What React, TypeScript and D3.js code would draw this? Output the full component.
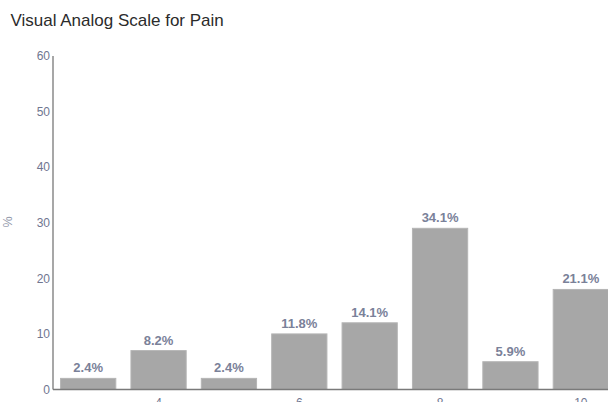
import React from "react";
import * as d3 from "d3";

const categories: number[] = [3, 4, 5, 6, 7, 8, 9, 10];
const counts: number[] = [2, 7, 2, 10, 12, 29, 5, 18];
const percentLabels: string[] = ["2.4%", "8.2%", "2.4%", "11.8%", "14.1%", "34.1%", "5.9%", "21.1%"];
const yTicks: number[] = [0, 10, 20, 30, 40, 50, 60];
const xTicks: number[] = [4, 6, 8, 10];
const title = "Visual Analog Scale for Pain";
const yLabel = "%";

export default function App() {
  const W = 608, H = 402;
  const x = d3.scaleLinear().domain([2.5, 10.5]).range([53, 616]);
  const y = d3.scaleLinear().domain([0, 60]).range([389.5, 56]);
  const unit = x(1) - x(0);
  const bw = unit * 0.785;
  const font = "'Liberation Sans', Arial, sans-serif";
  const tickColor = "#6f7690";
  return (
    <svg width={W} height={H} style={{ position: "absolute", left: 0, top: 0, background: "#fff" }} fontFamily={font}>
      <text x={10.5} y={26} fontSize={17} fill="#2b2b2b">{title}</text>
      <text transform={`translate(12,222) rotate(-90)`} textAnchor="middle" fontSize={12.5} fill="#8f96a8">{yLabel}</text>
      {yTicks.map((t) => (
        <text key={t} x={50} y={y(t)} dy="0.35em" textAnchor="end" fontSize={12} fill={tickColor}>{t}</text>
      ))}
      {xTicks.map((t) => (
        <text key={t} x={x(t)} y={y(0) + 8} dy="0.8em" textAnchor="middle" fontSize={12} fill={tickColor}>{t}</text>
      ))}
      {categories.map((c, i) => (
        <g key={c}>
          <rect x={x(c) - bw / 2} y={y(counts[i])} width={bw} height={y(0) - y(counts[i])} fill="#a7a7a7" stroke="#b5b5b5" strokeWidth={1} />
          <text x={x(c)} y={y(counts[i]) - 6} textAnchor="middle" fontSize={13} fontWeight="bold" fill="#7a8199">{percentLabels[i]}</text>
        </g>
      ))}
      <line x1={53} x2={53} y1={y(60)} y2={y(0)} stroke="#8a8a8a" strokeWidth={1.5} />
      <line x1={53} x2={W} y1={y(0)} y2={y(0)} stroke="#7a7a7a" strokeWidth={1.5} />
    </svg>
  );
}
